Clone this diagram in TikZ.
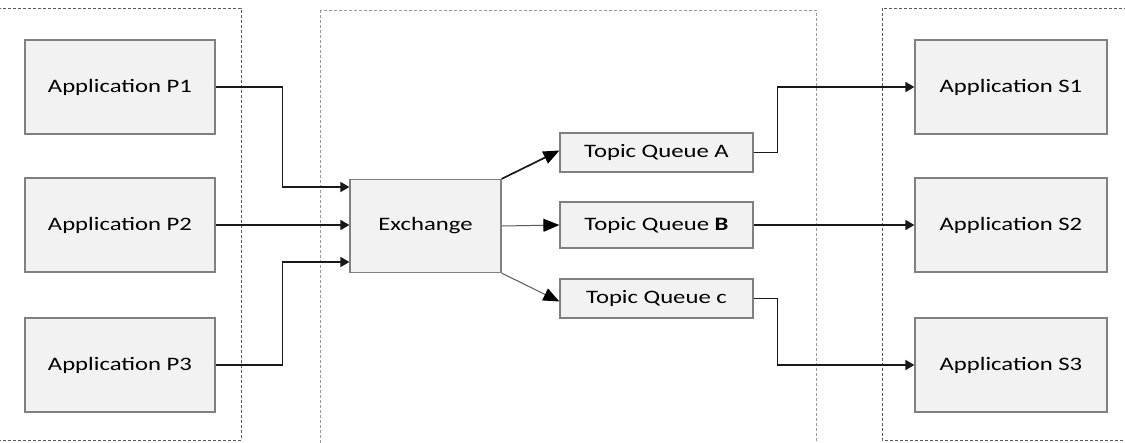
\documentclass[tikz,border=0pt]{standalone}
\usepackage{fontspec}
\setmainfont{Carlito}[FakeStretch=1.3]
\usepackage{tikz}
\usetikzlibrary{arrows.meta}

\begin{document}
\begin{tikzpicture}[x=1pt, y=-1pt,
  app/.style={draw=black!50, line width=1.2pt, fill=black!5, minimum width=190pt, minimum height=94pt, font=\fontsize{19}{21}\selectfont},
  que/.style={draw=black!50, line width=1.2pt, fill=black!5, minimum width=193pt, font=\fontsize{19}{21}\selectfont},
  grp/.style={draw=black!65, line width=0.9pt, dash pattern=on 3pt off 2pt},
  conn/.style={draw=black!90, line width=1.7pt, -{Triangle[length=9pt,width=10pt]}},
  fan/.style={draw=black!65, line width=1pt, -{Triangle[length=16pt,width=13pt,fill=black,color=black]}}]
  \useasboundingbox (0,0) rectangle (1125,442);
  \clip (0,0) rectangle (1125,442);
  \draw[grp] (-5,8) rectangle (241,440);
  \draw[grp, draw=black!40] (320,10) rectangle (816,450);
  \draw[grp] (882,8) rectangle (1130,440);

  \node[app] (p1) at (120,87) {Application P1};
  \node[app] (p2) at (120,225) {Application P2};
  \node[app] (p3) at (120,365) {Application P3};
  \node[app, minimum width=151pt, minimum height=93pt] (ex) at (425.5,226) {Exchange};
  \node[que, minimum height=39pt] (qa) at (656.5,152.5) {Topic Queue A};
  \node[que, minimum height=46pt] (qb) at (656.5,225) {Topic Queue \textbf{B}};
  \node[que, minimum height=39pt] (qc) at (656.5,298.5) {Topic Queue c};
  \node[app, minimum width=192pt] (s1) at (1011,87) {Application S1};
  \node[app, minimum width=192pt] (s2) at (1011,225) {Application S2};
  \node[app, minimum width=192pt] (s3) at (1011,365) {Application S3};

  \draw[conn] (p1.east) -- ++(67,0) |- ([yshift=39pt]ex.west);
  \draw[conn] (p2.east) -- (p2.east -| ex.west);
  \draw[conn] (p3.east) -- ++(67,0) |- ([yshift=-36pt]ex.west);
  \draw[fan, draw=black!90, line width=1.7pt] (ex.north east) -- ([yshift=2pt]qa.west);
  \draw[fan] (ex.east) -- (qb.west);
  \draw[fan] (ex.south east) -- ([yshift=-3pt]qc.west);
  \draw[conn] (qa.east) -- ++(24,0) |- (s1.west);
  \draw[conn] (qb.east) -- (s2.west);
  \draw[conn] (qc.east) -- ++(24,0) |- (s3.west);
\end{tikzpicture}
\end{document}
